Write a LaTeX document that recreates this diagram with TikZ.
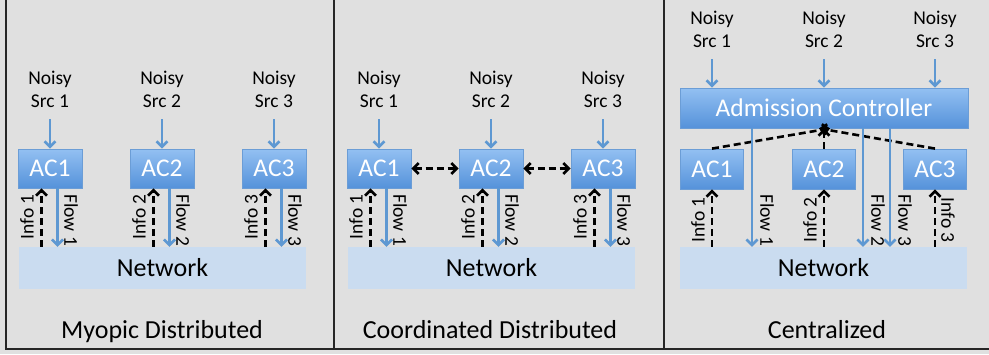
\documentclass[tikz,border=0pt]{standalone}
\usepackage{fontspec}
\setmainfont{Carlito}
\usetikzlibrary{arrows.meta}
\definecolor{bg}{HTML}{E0E0E0}
\definecolor{actop}{HTML}{93C0F2}
\definecolor{acbot}{HTML}{5592DA}
\definecolor{acborder}{HTML}{6B9DD6}
\definecolor{flowblue}{HTML}{5E98D2}
\definecolor{netblue}{HTML}{CADCF0}
\definecolor{frame}{HTML}{262626}
\begin{document}
\begin{tikzpicture}[x=1pt,y=-1pt,
 small/.style={font=\fontsize{19.5}{23}\selectfont},
 src/.style={small, align=center, anchor=south, inner sep=0pt},
 acbox/.style={draw=acborder, line width=0.8pt, top color=actop, bottom color=acbot, text=white, font=\fontsize{25.5}{28}\selectfont, minimum width=64pt, minimum height=39pt, inner sep=0pt},
 netbox/.style={fill=netblue, minimum width=287pt, minimum height=42pt, inner sep=0pt, font=\fontsize{26}{30}\selectfont},
 flowarr/.style={draw=flowblue, line width=2.6pt, -{Straight Barb[length=5.5pt,width=11pt]}},
 infoarr/.style={draw=black, line width=2.6pt, dash pattern=on 7pt off 4pt, -{Straight Barb[length=5.5pt,width=11pt]}},
 dblarr/.style={draw=black, line width=2.6pt, dash pattern=on 7pt off 4pt, {Straight Barb[length=5.5pt,width=11pt]}-{Straight Barb[length=5.5pt,width=11pt]}},
 lblup/.style={small, rotate=90, inner sep=0pt},
 lbldown/.style={small, rotate=-90, inner sep=0pt},
 paneltitle/.style={font=\fontsize{26}{30}\selectfont, inner sep=0pt, anchor=base},
 framelin/.style={draw=frame, line width=1.5pt},
]
\fill[bg] (0,0) rectangle (989,354);
\useasboundingbox (0,0) rectangle (989,354);
\draw[framelin] (6,0) -- (6,349) -- (989,349);
\draw[framelin] (334,0) -- (334,349);
\draw[framelin] (664,0) -- (664,349);

% Panels 1 and 2
\foreach \p/\o in {1/0, 2/329} {
  \foreach \i/\c in {1/50, 2/162, 3/274} {
    \node[src] (n\p\i) at (\c+\o, 108) {Noisy\\Src \i};
    \node[acbox] (ac\p\i) at (\c+\o, 168.5) {AC\i};
    \draw[flowarr, shorten <=11pt] (n\p\i.south) -- (ac\p\i.north);
  }
  \node[netbox] (net\p) at (162.5+\o, 268) {Network};
  \foreach \i/\c in {1/50, 2/162, 3/274} {
    \draw[infoarr] ([xshift=-8.5pt]ac\p\i.south |- net\p.north) -- ([xshift=-8.5pt]ac\p\i.south);
    \draw[flowarr] ([xshift=7.5pt]ac\p\i.south) -- ([xshift=7.5pt]ac\p\i.south |- net\p.north);
    \node[lblup] (info\p\i) at (\c+\o-23, 217) {Info \i};
    \node[lbldown] (flow\p\i) at (\c+\o+21, 220) {Flow \i};
  }
}
\draw[dblarr] (ac21.east) -- (ac22.west);
\draw[dblarr] (ac22.east) -- (ac23.west);

% Panel 3
\node[acbox, minimum width=288pt, minimum height=40pt] (adm) at (824, 108) {Admission Controller};
\foreach \i/\c in {1/712, 2/824, 3/935} {
  \node[src] (n3\i) at (\c, 48) {Noisy\\Src \i};
  \draw[flowarr, shorten <=11pt] (n3\i.south) -- (n3\i.south |- adm.north);
  \node[acbox, minimum width=63pt, minimum height=40pt] (ac3\i) at (\c, 169) {AC\i};
}
\node[netbox] (net3) at (823.5, 268) {Network};
\foreach \i in {1,2,3} {
  \draw[infoarr] (ac3\i.south |- net3.north) -- (ac3\i.south);
}
\draw[infoarr] (ac32.north) -- (adm.south);
\draw[infoarr] (ac31.north) -- ([xshift=6pt]adm.south);
\draw[infoarr] (ac33.north) -- ([xshift=-5pt]adm.south);
\draw[flowarr] ([xshift=-72pt]adm.south) -- ([xshift=-72pt]adm.south |- net3.north);
\draw[flowarr] ([xshift=39pt]adm.south) -- ([xshift=39pt]adm.south |- net3.north);
\draw[flowarr] ([xshift=66pt]adm.south) -- ([xshift=66pt]adm.south |- net3.north);
\node[lblup] (info31) at (698, 220) {Info 1};
\node[lblup] (info32) at (810, 220) {Info 2};
\node[lbldown] (info33) at (948, 220) {Info 3};
\node[lbldown] (flow31) at (767, 220) {Flow 1};
\node[lbldown] (flow32) at (878, 220) {Flow 2};
\node[lbldown] (flow33) at (905, 220) {Flow 3};

% Titles
\node[paneltitle] (t1) at (162, 338) {Myopic Distributed};
\node[paneltitle] (t2) at (490, 338) {Coordinated Distributed};
\node[paneltitle] (t3) at (827, 338) {Centralized};
\end{tikzpicture}
\end{document}
